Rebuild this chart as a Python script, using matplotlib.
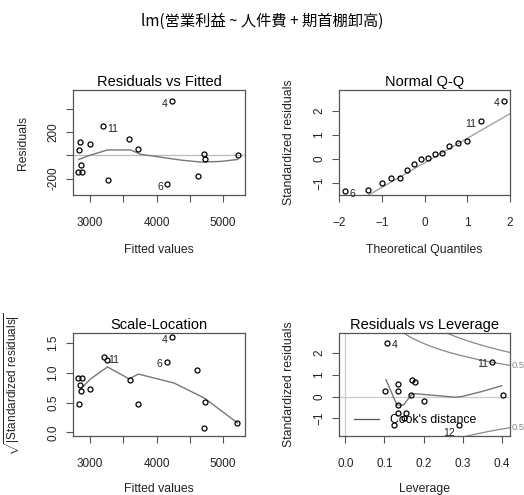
import numpy as np
import matplotlib
matplotlib.use("Agg")
import matplotlib.pyplot as plt

plt.rcParams['font.family'] = ['Liberation Sans', 'DejaVu Sans']
plt.rcParams['mathtext.fontset'] = 'custom'
plt.rcParams['mathtext.rm'] = 'Liberation Sans'

# --- Residuals vs Fitted
rvf_fitted = [2834, 2845, 2995, 2860, 2819, 2885, 3202, 3271, 3594, 3724,
              4228, 4157, 4620, 4720, 4735, 5223]
rvf_resid = [46, 118, 101, -82, -143, -143, 252, -215, 142, 52,
             466, -247, -180, 9, -35, 0]
rvf_smooth_x = [2834, 2995, 3262, 3614, 3765, 4017, 4368, 4670, 4972, 5223]
rvf_smooth_y = [-35, 0, 46, 46, 9, -12, -41, -58, -52, -35]
rvf_lab_idx = [10, 11, 6]
rvf_lab_txt = ['4', '6', '11']

# --- Normal Q-Q
qq_theo = [-1.86, -1.32, -1.01, -0.78, -0.58, -0.40, -0.24, -0.08,
           0.08, 0.24, 0.40, 0.58, 0.78, 1.01, 1.32, 1.86]
qq_std = [-1.34, -1.30, -1.02, -0.78, -0.78, -0.45, -0.20, 0.00,
          0.06, 0.22, 0.26, 0.56, 0.68, 0.76, 1.59, 2.44]
qq_line = (-0.16, 1.02)   # intercept, slope
qq_lab_idx = [15, 14, 0]
qq_lab_txt = ['4', '11', '6']

# --- Scale-Location
sl_fitted = [2834, 2819, 2885, 2845, 2860, 2995, 3211, 3252, 3600, 3720,
             4230, 4155, 4615, 4730, 4715, 5217]
sl_sqrt = [0.47, 0.92, 0.92, 0.80, 0.70, 0.73, 1.26, 1.21, 0.88, 0.48,
           1.60, 1.19, 1.05, 0.51, 0.08, 0.16]
sl_smooth_x = [2850, 3011, 3262, 3587, 3728, 4263, 4715, 5217]
sl_smooth_y = [0.72, 0.90, 1.10, 0.90, 0.98, 0.83, 0.58, 0.16]
sl_lab_idx = [10, 11, 6]
sl_lab_txt = ['4', '6', '11']

# --- Residuals vs Leverage
lev_h = [0.107, 0.376, 0.1025, 0.134, 0.134, 0.170, 0.177, 0.169, 0.200,
         0.402, 0.134, 0.136, 0.156, 0.149, 0.124, 0.291]
lev_rs = [2.49, 1.61, 0.27, 0.56, 0.25, 0.78, 0.66, 0.06, -0.19,
          0.05, -0.39, -0.75, -0.75, -0.98, -1.29, -1.29]
lev_smooth_h = [0.104, 0.132, 0.149, 0.169, 0.179, 0.230, 0.281, 0.298, 0.349, 0.400]
lev_smooth_rs = [0.78, -0.39, -0.39, 0.08, 0.13, 0.05, -0.03, 0.0, 0.23, 0.50]
lev_lab_idx = [0, 1, 15]
lev_lab_txt = ['4', '11', '12']
cook_levels = [0.5, 1.0]
n_coef = 3

main_title = 'lm(営業利益 ~ 人件費 + 期首棚卸高)'

W, H = 524, 495
fig = plt.figure(figsize=(W / 100, H / 100), dpi=100)


def make_ax(x0, y0, x1, y1):
    # pixel box -> figure fraction
    return fig.add_axes([x0 / W, 1 - y1 / H, (x1 - x0) / W, (y1 - y0) / H])


TXT = '#222222'
BOX = '#555555'
SMOOTH = '#777777'


def style(ax, title, xlabel, ylabel, ylab_px=44, xlab_px=49, box_h=105, ylab_size=8.8):
    for s in ax.spines.values():
        s.set_color(BOX)
        s.set_linewidth(0.9)
    ax.tick_params(direction='out', length=5, width=0.8, color=BOX,
                   labelsize=8.5, labelcolor=TXT)
    ax.tick_params(axis='x', pad=11)
    ax.tick_params(axis='y', pad=5)
    for lab in ax.get_yticklabels():
        lab.set_rotation(90)
        lab.set_va('center')
    ax.set_title(title, fontsize=10.5, pad=3)
    ax.set_xlabel(xlabel, fontsize=8.8, color=TXT)
    ax.set_ylabel(ylabel, fontsize=ylab_size, color=TXT)
    ax.xaxis.set_label_coords(0.5, -xlab_px / box_h)
    ax.yaxis.set_label_coords(-ylab_px / 172, 0.5)


def points(ax, x, y):
    ax.plot(x, y, 'o', ms=3.6, mfc='none', mec='black', mew=0.9, zorder=3)


def label(ax, x, y, txt, right, dy=-2):
    ax.annotate(txt, (x, y), xytext=(3 if right else -3, dy),
                textcoords='offset points', fontsize=7.5, color=TXT,
                ha='left' if right else 'right', va='center')


# Residuals vs Fitted
ax1 = make_ax(73, 90, 245, 195)
ax1.axhline(0, color='#bbbbbb', lw=0.9, zorder=1)
ax1.plot(rvf_smooth_x, rvf_smooth_y, color=SMOOTH, lw=1)
points(ax1, rvf_fitted, rvf_resid)
for i, t in zip(rvf_lab_idx, rvf_lab_txt):
    label(ax1, rvf_fitted[i], rvf_resid[i], t, rvf_fitted[i] < 4000)
ax1.set_xlim(2745, 5330)
ax1.set_ylim(-340, 560)
ax1.set_xticks([3000, 3500, 4000, 4500, 5000])
ax1.set_xticklabels(['3000', '', '4000', '', '5000'])
ax1.set_yticks([-200, 0, 200, 400])
ax1.set_yticklabels(['-200', '', '200', ''])
style(ax1, 'Residuals vs Fitted', 'Fitted values', 'Residuals')

# Normal Q-Q
ax2 = make_ax(339, 90, 510, 195)
xs = np.array([-2.1, 2.1])
ax2.plot(xs, qq_line[0] + qq_line[1] * xs, color='#999999', lw=0.9)
points(ax2, qq_theo, qq_std)
for i, t in zip(qq_lab_idx, qq_lab_txt):
    label(ax2, qq_theo[i], qq_std[i], t, qq_theo[i] < 0)
ax2.set_xlim(-2.01, 2.01)
ax2.set_ylim(-1.50, 2.88)
ax2.set_xticks([-2, -1, 0, 1, 2])
ax2.set_yticks([-1, 0, 1, 2])
style(ax2, 'Normal Q-Q', 'Theoretical Quantiles', 'Standardized residuals')

# Scale-Location
ax3 = make_ax(73, 333, 245, 436)
ax3.plot(sl_smooth_x, sl_smooth_y, color=SMOOTH, lw=1)
points(ax3, sl_fitted, sl_sqrt)
for i, t in zip(sl_lab_idx, sl_lab_txt):
    label(ax3, sl_fitted[i], sl_sqrt[i], t, sl_fitted[i] < 4000)
ax3.set_xlim(2745, 5330)
ax3.set_ylim(-0.06, 1.67)
ax3.set_xticks([3000, 3500, 4000, 4500, 5000])
ax3.set_xticklabels(['3000', '', '4000', '', '5000'])
ax3.set_yticks([0.0, 0.5, 1.0, 1.5])
ax3.set_yticklabels(['0.0', '0.5', '1.0', '1.5'])
style(ax3, 'Scale-Location', 'Fitted values',
      r'$\sqrt{|\mathrm{Standardized\ residuals}|}$', ylab_px=51, xlab_px=47,
      box_h=103, ylab_size=8.5)

# Residuals vs Leverage
ax4 = make_ax(339, 333, 510, 436)
ax4.axhline(0, color='#cccccc', lw=0.9, zorder=1)
ax4.axvline(0, color='#cccccc', lw=0.9, zorder=1)
hmax = 0.421
hh = np.linspace(0.02, hmax, 300)
for lv in cook_levels:
    rr = np.sqrt(lv * n_coef * (1 - hh) / hh)
    ax4.plot(hh, rr, color='#888888', lw=0.9)
    ax4.plot(hh, -rr, color='#888888', lw=0.9)
    edge = np.sqrt(lv * n_coef * (1 - hmax) / hmax)
    for sgn in (1, -1):
        if abs(edge) < 1.82:
            ax4.text(hmax + 0.003, sgn * edge, '%g' % lv, fontsize=6.8,
                     color='#888888' if lv < 1 else TXT, va='center',
                     clip_on=False)
ax4.plot(lev_smooth_h, lev_smooth_rs, color=SMOOTH, lw=1)
points(ax4, lev_h, lev_rs)
for i, t in zip(lev_lab_idx, lev_lab_txt):
    label(ax4, lev_h[i], lev_rs[i], t, lev_h[i] < 0.2, dy=-6 if t == '12' else -2)
ax4.set_xlim(-0.016, hmax)
ax4.set_ylim(-1.82, 2.93)
ax4.set_xticks([0.0, 0.1, 0.2, 0.3, 0.4])
ax4.set_xticklabels(['0.0', '0.1', '0.2', '0.3', '0.4'])
ax4.set_yticks([-1, 0, 1, 2])
ax4.legend(handles=[plt.Line2D([], [], color='#555555', lw=0.9)],
           labels=["Cook's distance"], loc='lower left', frameon=False,
           fontsize=8.8, handlelength=2.0, handletextpad=0.9,
           borderaxespad=0.0, bbox_to_anchor=(0.06, 0.05))
style(ax4, 'Residuals vs Leverage', 'Leverage', 'Standardized residuals',
      xlab_px=47, box_h=103)

fig.text(0.5, 1 - 21 / H, main_title, ha='center', va='center', fontsize=11,
         family=['Noto Sans CJK JP', 'DejaVu Sans'])

fig.savefig('out.png', dpi=100)
